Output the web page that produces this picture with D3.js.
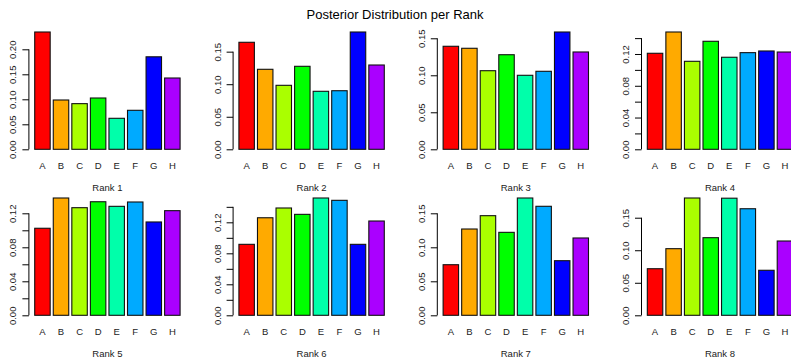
<!DOCTYPE html>
<html>
<head>
<meta charset="utf-8">
<script src="https://cdn.jsdelivr.net/npm/d3@7"></script>
<style>
  body { margin: 0; background: #fff; }
  svg { display: block; font-family: "Liberation Sans", Arial, Helvetica, sans-serif; }
</style>
</head>
<body>
<div id="chart"></div>
<script>
// categories and colours (rainbow palette)
const categories = ["A", "B", "C", "D", "E", "F", "G", "H"];
const barColors = ["#FF0000", "#FFAA00", "#AAFF00", "#00FF00", "#00FFAA", "#00AAFF", "#0000FF", "#AA00FF"];
const rankLabels = ["Rank 1", "Rank 2", "Rank 3", "Rank 4", "Rank 5", "Rank 6", "Rank 7", "Rank 8"];

// posterior probability of each category at each rank
const rank1 = [0.2346, 0.0986, 0.0913, 0.1026, 0.0620, 0.0780, 0.1850, 0.1426];
const rank2 = [0.1644, 0.1229, 0.0983, 0.1275, 0.0891, 0.0900, 0.1802, 0.1295];
const rank3 = [0.1392, 0.1365, 0.1062, 0.1278, 0.1000, 0.1054, 0.1585, 0.1315];
const rank4 = [0.1209, 0.1477, 0.1108, 0.1360, 0.1159, 0.1217, 0.1238, 0.1225];
const rank5 = [0.1024, 0.1380, 0.1266, 0.1336, 0.1282, 0.1333, 0.1098, 0.1231];
const rank6 = [0.0916, 0.1259, 0.1385, 0.1303, 0.1514, 0.1484, 0.0916, 0.1217];
const rank7 = [0.0744, 0.1269, 0.1465, 0.1220, 0.1725, 0.1603, 0.0803, 0.1137];
const rank8 = [0.0716, 0.1024, 0.1803, 0.1193, 0.1800, 0.1638, 0.0692, 0.1142];

// y tick spacing for each panel
const tickSteps = [0.05, 0.05, 0.05, 0.02, 0.02, 0.02, 0.05, 0.05];

const ranks = [rank1, rank2, rank3, rank4, rank5, rank6, rank7, rank8];

const width = 791, height = 358;
const plotLeft = 28.9, panelPitch = 204.2, plotWidth = 157;
const rowBase = [149.3, 315.3];
const barSpan = 117.3;

const svg = d3.select("#chart")
    .append("svg")
    .attr("width", width)
    .attr("height", height);

svg.append("text")
    .attr("x", 395)
    .attr("y", 19)
    .attr("text-anchor", "middle")
    .attr("font-size", "13px")
    .attr("fill", "#000")
    .text("Posterior Distribution per Rank");

const fmt = d3.format(".2f");

ranks.forEach((vals, i) => {
    const col = i % 4, row = Math.floor(i / 4);
    const left = plotLeft + col * panelPitch;
    const base = rowBase[row];
    const maxV = d3.max(vals);

    const x = d3.scaleBand()
        .domain(categories)
        .range([left, left + plotWidth])
        .paddingInner(1 / 6)
        .paddingOuter(0.3133);

    const y = d3.scaleLinear()
        .domain([0, maxV])
        .range([base, base - barSpan]);

    const g = svg.append("g");

    g.selectAll("rect")
        .data(vals)
        .join("rect")
        .attr("x", (d, j) => x(categories[j]))
        .attr("y", (d) => y(d))
        .attr("width", x.bandwidth())
        .attr("height", (d) => base - y(d))
        .attr("fill", (d, j) => barColors[j])
        .attr("stroke", "#111")
        .attr("stroke-width", 1.1);

    // R style axis: line only between first and last tick
    const step = tickSteps[i];
    const tv = d3.range(0, Math.floor(maxV / step + 1e-9) + 1).map((k) => +(k * step).toFixed(2));
    const axis = d3.axisLeft(y)
        .tickValues(tv)
        .tickSize(6.5)
        .tickFormat((d, k) => (step < 0.05 && k % 2) ? "" : fmt(d));

    const ag = g.append("g")
        .attr("transform", `translate(${left},0)`)
        .call(axis)
        .attr("font-family", null)
        .attr("font-size", null);

    ag.select(".domain").remove();
    ag.append("line")
        .attr("y1", y(0))
        .attr("y2", y(tv[tv.length - 1]))
        .attr("stroke", "#000");
    ag.selectAll(".tick line").attr("stroke", "#000");
    ag.selectAll(".tick text")
        .attr("transform", "rotate(-90)")
        .attr("x", 0)
        .attr("y", -12.5)
        .attr("dy", null)
        .attr("text-anchor", "middle")
        .attr("fill", "#222")
        .attr("font-size", "9.5px");

    g.selectAll(".cat")
        .data(categories)
        .join("text")
        .attr("class", "cat")
        .attr("x", (d) => x(d) + x.bandwidth() / 2)
        .attr("y", base + 20)
        .attr("text-anchor", "middle")
        .attr("font-size", "9.5px")
        .attr("fill", "#222")
        .text((d) => d);

    g.append("text")
        .attr("x", left + plotWidth / 2)
        .attr("y", base + 41.5)
        .attr("text-anchor", "middle")
        .attr("font-size", "9.5px")
        .attr("fill", "#222")
        .text(rankLabels[i]);
});
</script>
</body>
</html>
